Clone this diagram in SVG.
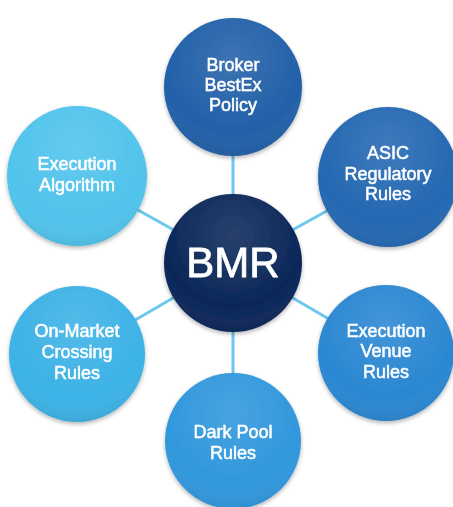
<svg xmlns="http://www.w3.org/2000/svg" width="453" height="507" viewBox="0 0 453 507">
<defs>
<style>
.t{font-family:"Liberation Sans",Arial,sans-serif;font-size:18px;fill:#fff;text-anchor:middle;stroke:#fff;stroke-width:0.5}
.big{font-family:"Liberation Sans",Arial,sans-serif;font-size:42px;fill:#fff;text-anchor:middle;stroke:#fff;stroke-width:0.8}
.c{stroke:#6cc8ec;stroke-width:3;fill:none}
</style>
<radialGradient id="gloss" cx="0.5" cy="0.3" r="0.75">
<stop offset="0" stop-color="#fff" stop-opacity="0.12"/>
<stop offset="0.7" stop-color="#fff" stop-opacity="0"/>
<stop offset="1" stop-color="#000" stop-opacity="0.12"/>
</radialGradient>
<filter id="sh" x="-20%" y="-20%" width="140%" height="140%">
<feGaussianBlur in="SourceAlpha" stdDeviation="2"/>
<feOffset dy="2"/>
<feComponentTransfer><feFuncA type="linear" slope="0.3"/></feComponentTransfer>
<feMerge><feMergeNode/><feMergeNode in="SourceGraphic"/></feMerge>
</filter>
</defs>
<rect width="453" height="507" fill="#fff"/>
<g id="connectors">
<line class="c" x1="233" y1="263" x2="233" y2="87"/>
<line class="c" x1="233" y1="263" x2="388" y2="177"/>
<line class="c" x1="233" y1="263" x2="387" y2="353"/>
<line class="c" x1="233" y1="263" x2="233" y2="440"/>
<line class="c" x1="233" y1="263" x2="77" y2="354"/>
<line class="c" x1="233" y1="263" x2="77" y2="176"/>
</g>
<g id="broker" filter="url(#sh)">
<circle cx="233" cy="87" r="69" fill="#2260a8"/>
<circle cx="233" cy="87" r="69" fill="url(#gloss)"/>
<text class="t" x="233" y="71">Broker</text>
<text class="t" x="233" y="91">BestEx</text>
<text class="t" x="233" y="111">Policy</text>
</g>
<g id="asic" filter="url(#sh)">
<circle cx="388" cy="177" r="70" fill="#2468b2"/>
<circle cx="388" cy="177" r="70" fill="url(#gloss)"/>
<text class="t" x="388" y="159">ASIC</text>
<text class="t" x="388" y="180">Regulatory</text>
<text class="t" x="388" y="200">Rules</text>
</g>
<g id="venue" filter="url(#sh)">
<circle cx="386" cy="353" r="68" fill="#2a87d2"/>
<circle cx="386" cy="353" r="68" fill="url(#gloss)"/>
<text class="t" x="386" y="337">Execution</text>
<text class="t" x="386" y="357">Venue</text>
<text class="t" x="386" y="378">Rules</text>
</g>
<g id="darkpool" filter="url(#sh)">
<circle cx="233" cy="441" r="68" fill="#3097dc"/>
<circle cx="233" cy="441" r="68" fill="url(#gloss)"/>
<text class="t" x="233" y="438">Dark Pool</text>
<text class="t" x="233" y="459">Rules</text>
</g>
<g id="onmarket" filter="url(#sh)">
<circle cx="77" cy="354" r="68" fill="#3cb2e6"/>
<circle cx="77" cy="354" r="68" fill="url(#gloss)"/>
<text class="t" x="77" y="337">On-Market</text>
<text class="t" x="77" y="358">Crossing</text>
<text class="t" x="77" y="379">Rules</text>
</g>
<g id="algo" filter="url(#sh)">
<circle cx="77" cy="176" r="70" fill="#50c3ec"/>
<circle cx="77" cy="176" r="70" fill="url(#gloss)"/>
<text class="t" x="77" y="170">Execution</text>
<text class="t" x="77" y="191">Algorithm</text>
</g>
<g id="bmr" filter="url(#sh)">
<circle cx="233" cy="263" r="69" fill="#0b2758"/>
<circle cx="233" cy="263" r="69" fill="url(#gloss)"/>
<text class="big" x="233" y="277">BMR</text>
</g>
</svg>
